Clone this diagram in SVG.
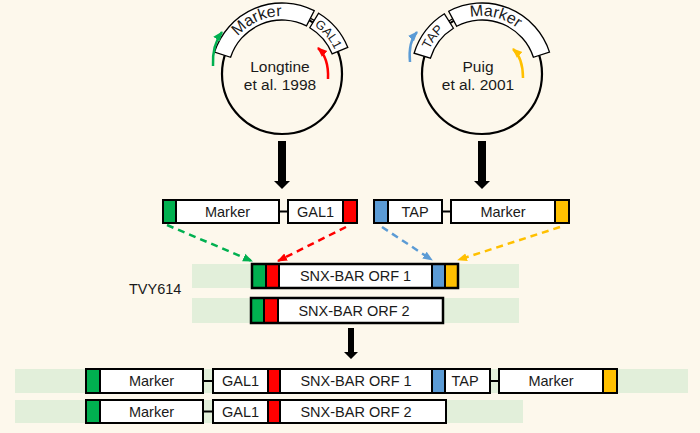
<svg xmlns="http://www.w3.org/2000/svg" width="700" height="433" viewBox="0 0 700 433">
<style>
text{font-family:"Liberation Sans",Arial,sans-serif;font-size:14.5px;fill:#1a1a1a}
.c{text-anchor:middle}
.pl{font-size:15.5px}
.box{fill:#fff;stroke:#000;stroke-width:2}
.g{fill:#00b050;stroke:#000;stroke-width:2}
.r{fill:#ff0000;stroke:#000;stroke-width:2}
.b{fill:#5b9bd5;stroke:#000;stroke-width:2}
.o{fill:#ffc000;stroke:#000;stroke-width:2}
.bg{fill:#e2efda}
.ln{stroke:#000;stroke-width:2;fill:none}
.band{fill:#fff;stroke:#000;stroke-width:1.3}
.dash{fill:none;stroke-width:2.5;stroke-dasharray:7 5}
.curve{fill:none;stroke-width:2.5}
</style>
<defs>
<marker id="mg" markerUnits="userSpaceOnUse" markerWidth="10" markerHeight="10" viewBox="0 0 10 10" refX="9" refY="5" orient="auto"><path d="M0,1 L10,5 L0,9 Z" fill="#00b050"/></marker>
<marker id="mr" markerUnits="userSpaceOnUse" markerWidth="10" markerHeight="10" viewBox="0 0 10 10" refX="9" refY="5" orient="auto"><path d="M0,1 L10,5 L0,9 Z" fill="#ff0000"/></marker>
<marker id="mb" markerUnits="userSpaceOnUse" markerWidth="10" markerHeight="10" viewBox="0 0 10 10" refX="9" refY="5" orient="auto"><path d="M0,1 L10,5 L0,9 Z" fill="#5b9bd5"/></marker>
<marker id="mo" markerUnits="userSpaceOnUse" markerWidth="10" markerHeight="10" viewBox="0 0 10 10" refX="9" refY="5" orient="auto"><path d="M0,1 L10,5 L0,9 Z" fill="#ffc000"/></marker>
<path id="tpL1" d="M226,59 A58,58 0 0 1 306.5,21.5"/>
<path id="tpL2" d="M312.7,24.8 A58,58 0 0 1 335.4,51.3"/>
<path id="tpR1" d="M426.8,56.1 A58,58 0 0 1 449.6,25.9"/>
<path id="tpR2" d="M455.7,22.3 A58,58 0 0 1 528.3,39.1"/>
</defs>
<rect width="700" height="433" fill="#fdf8ec"/>

<g id="plasmid-longtine">
<circle cx="282" cy="74" r="60" fill="none" stroke="#000" stroke-width="2.2"/>
<path class="band" d="M214.5,52.1 A71,71 0 0 1 314.2,10.7 L306.5,25.9 A54,54 0 0 0 230.6,57.3 Z"/>
<path class="band" d="M318.6,13.2 A71,71 0 0 1 347.8,47.4 L332.1,53.8 A54,54 0 0 0 309.8,27.7 Z"/>
<line x1="310.4" y1="18.3" x2="314.2" y2="20.4" stroke="#000" stroke-width="1.3"/>
<text class="c" style="font-size:16px"><textPath href="#tpL1" startOffset="50%">Marker</textPath></text>
<text class="c" style="font-size:12.5px"><textPath href="#tpL2" startOffset="50%">GAL1</textPath></text>
<text class="c pl" x="280" y="72">Longtine</text>
<text class="c pl" x="280" y="90">et al. 1998</text>
</g>

<g id="plasmid-puig">
<circle cx="482" cy="74" r="60" fill="none" stroke="#000" stroke-width="2.2"/>
<path class="band" d="M414.1,53.2 A71,71 0 0 1 444.4,13.8 L453.4,28.2 A54,54 0 0 0 430.4,58.2 Z"/>
<path class="band" d="M448.7,11.3 A71,71 0 0 1 549.5,52.1 L533.4,57.3 A54,54 0 0 0 456.7,26.3 Z"/>
<line x1="448.9" y1="21.0" x2="452.7" y2="18.8" stroke="#000" stroke-width="1.3"/>
<text class="c" style="font-size:13px"><textPath href="#tpR1" startOffset="50%">TAP</textPath></text>
<text class="c" style="font-size:16px"><textPath href="#tpR2" startOffset="50%">Marker</textPath></text>
<text class="c pl" x="478" y="72">Puig</text>
<text class="c pl" x="478" y="90">et al. 2001</text>
</g>

<g id="cassette-longtine">
<line class="ln" x1="279" y1="211.5" x2="288" y2="211.5"/>
<rect class="box" x="176" y="200" width="103" height="23"/>
<rect class="g" x="163" y="200" width="13" height="23"/>
<rect class="box" x="288" y="200" width="55" height="23"/>
<rect class="r" x="343" y="200" width="14" height="23"/>
<text class="c" x="227.5" y="216.5">Marker</text>
<text class="c" x="315.5" y="216.5">GAL1</text>
</g>

<g id="cassette-puig">
<line class="ln" x1="442" y1="211.5" x2="451" y2="211.5"/>
<rect class="b" x="374" y="200" width="14" height="23"/>
<rect class="box" x="388" y="200" width="54" height="23"/>
<rect class="box" x="451" y="200" width="104" height="23"/>
<rect class="o" x="555" y="200" width="14" height="23"/>
<text class="c" x="415" y="216.5">TAP</text>
<text class="c" x="503" y="216.5">Marker</text>
</g>

<g id="label-tvy614">
<text x="129" y="294">TVY614</text>
</g>

<g id="orf1">
<rect class="bg" x="192" y="264" width="327" height="24"/>
<rect class="box" x="252" y="264" width="206" height="24" stroke-width="2.5"/>
<rect class="g" x="252" y="264" width="14" height="24" stroke-width="1.5"/>
<rect class="r" x="266" y="264" width="13" height="24" stroke-width="1.5"/>
<rect class="b" x="432" y="264" width="13" height="24" stroke-width="1.5"/>
<rect class="o" x="445" y="264" width="13" height="24" stroke-width="1.5"/>
<rect x="252" y="264" width="206" height="24" fill="none" stroke="#000" stroke-width="2.5"/>
<text class="c" x="355.5" y="281">SNX-BAR ORF 1</text>
</g>

<g id="orf2">
<rect class="bg" x="192" y="298" width="327" height="25"/>
<rect class="box" x="251" y="298" width="192" height="25" stroke-width="2.5"/>
<rect class="g" x="251" y="298" width="13" height="25" stroke-width="1.5"/>
<rect class="r" x="264" y="298" width="14" height="25" stroke-width="1.5"/>
<rect x="251" y="298" width="192" height="25" fill="none" stroke="#000" stroke-width="2.5"/>
<text class="c" x="354" y="315.5">SNX-BAR ORF 2</text>
</g>

<g id="result1">
<rect class="bg" x="15" y="369" width="673" height="24"/>
<line class="ln" x1="203" y1="381" x2="213" y2="381"/>
<line class="ln" x1="490" y1="381" x2="499" y2="381"/>
<rect class="g" x="86" y="369" width="14" height="24"/>
<rect class="box" x="100" y="369" width="103" height="24"/>
<rect class="box" x="213" y="369" width="55" height="24"/>
<rect class="r" x="268" y="369" width="12" height="24"/>
<rect class="box" x="280" y="369" width="152" height="24"/>
<rect class="b" x="432" y="369" width="13" height="24"/>
<rect class="box" x="445" y="369" width="45" height="24"/>
<rect class="box" x="499" y="369" width="104" height="24"/>
<rect class="o" x="603" y="369" width="14" height="24"/>
<text class="c" x="151.5" y="386">Marker</text>
<text class="c" x="240.5" y="386">GAL1</text>
<text class="c" x="356" y="386">SNX-BAR ORF 1</text>
<text class="c" x="465" y="386">TAP</text>
<text class="c" x="551" y="386">Marker</text>
</g>

<g id="result2">
<rect class="bg" x="15" y="400" width="508" height="23"/>
<line class="ln" x1="203" y1="411.5" x2="213" y2="411.5"/>
<rect class="g" x="86" y="400" width="14" height="23"/>
<rect class="box" x="100" y="400" width="103" height="23"/>
<rect class="box" x="213" y="400" width="55" height="23"/>
<rect class="r" x="268" y="400" width="12" height="23"/>
<rect class="box" x="280" y="400" width="166" height="23"/>
<text class="c" x="151.5" y="416.5">Marker</text>
<text class="c" x="240.5" y="416.5">GAL1</text>
<text class="c" x="356" y="416.5">SNX-BAR ORF 2</text>
</g>

<g id="connectors">
<path class="curve" stroke="#00b050" d="M213,66 Q212,45 222,32" marker-end="url(#mg)"/>
<path class="curve" stroke="#ff0000" d="M328,79 Q329,58 318,48" marker-end="url(#mr)"/>
<path class="curve" stroke="#5b9bd5" d="M410,62 Q408,42 417,32" marker-end="url(#mb)"/>
<path class="curve" stroke="#ffc000" d="M523,78 Q523,58 513,49" marker-end="url(#mo)"/>
<polygon points="278,141 286,141 286,181 290,181 282,189 274,181 278,181" fill="#000"/>
<polygon points="478,141 486,141 486,181 490,181 482,189 474,181 478,181" fill="#000"/>
<polygon points="348,328 354,328 354,352 358,352 351,359 344,352 348,352" fill="#000"/>
<line class="dash" stroke="#00b050" x1="167" y1="225" x2="252" y2="261" marker-end="url(#mg)"/>
<line class="dash" stroke="#ff0000" x1="346" y1="227" x2="278" y2="261" marker-end="url(#mr)"/>
<line class="dash" stroke="#5b9bd5" x1="382" y1="227" x2="432" y2="260" marker-end="url(#mb)"/>
<line class="dash" stroke="#ffc000" x1="560" y1="227" x2="458" y2="260" marker-end="url(#mo)"/>
</g>
</svg>
